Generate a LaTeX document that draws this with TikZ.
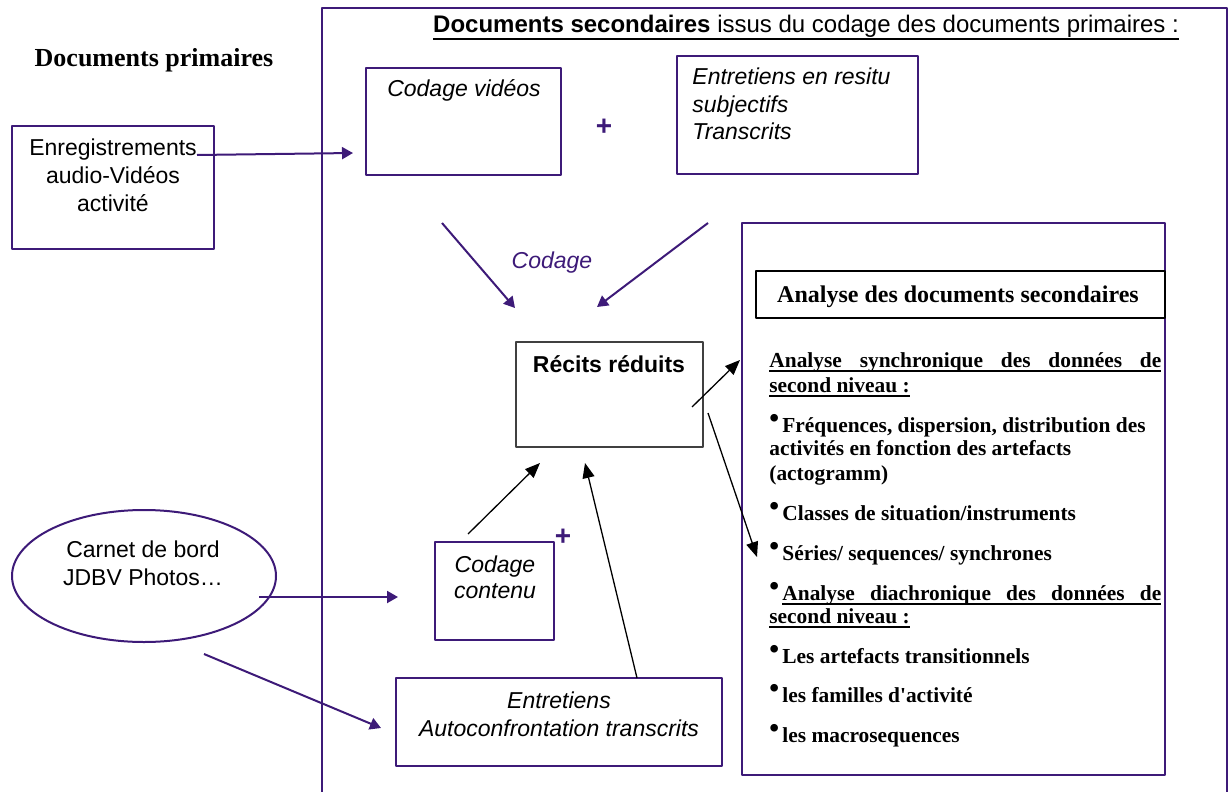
\documentclass[tikz,border=0pt]{standalone}
\usepackage{fontspec}
\setmainfont{Liberation Serif}
\setsansfont{Liberation Sans}
\usetikzlibrary{arrows.meta,fit,shapes.geometric}
\definecolor{violetfonce}{HTML}{3D1A78}
\definecolor{gristrait}{HTML}{404040}
% soulignement epais : [profondeur]{texte}
\newcommand\souligne[2][-2.5pt]{\setbox0=\hbox{#2}\rlap{\rule[#1]{\wd0}{1.1pt}}\box0}
\newcommand\puce{\makebox[6.5pt][l]{\raisebox{.22em}{\fontsize{14}{14}\selectfont\textbullet}}}
\tikzset{
	boite/.style={draw=violetfonce, line width=1pt, inner sep=0pt},
	fleche/.style={violetfonce, line width=1pt, -{Triangle[length=5.5pt,width=6pt]}},
	flechenoire/.style={black, line width=0.65pt, -{Triangle[length=7.5pt,width=6pt]}},
	texte/.style={font=\fontsize{11.5}{13.8}\selectfont\sffamily, inner sep=0pt},
	italique/.style={font=\fontsize{11.5}{13.8}\selectfont\sffamily\itshape, inner sep=0pt},
	entete/.style={font=\fontsize{12}{14}\selectfont\rmfamily\bfseries, inner sep=0pt},
	corps/.style={font=\fontsize{10.7}{12}\selectfont\rmfamily\bfseries, inner sep=0pt},
	plus/.style={font=\fontsize{14}{14}\selectfont\sffamily\bfseries, text=violetfonce, inner sep=0pt}
}
\begin{document}
\begin{tikzpicture}[x=0.5pt, y=-0.5pt, line join=round]
	\useasboundingbox (0,0) rectangle (1231,792);
	%Documents primaires.
	\node[font=\fontsize{13}{15}\selectfont\rmfamily\bfseries, anchor=base] (prim) at (154,67) {Documents primaires};
	\node[boite, fit={(12,126) (214,249)}] (enreg) {};
	\node[texte, anchor=base, align=center] (enreg-t) at (113,211) {Enregistrements\\audio-Vidéos\\activité};
	\node[boite, ellipse, minimum width=132pt, minimum height=66pt] (carnet) at (144,576) {};
	\node[texte, anchor=base, align=center] (carnet-t) at (143,585) {Carnet de bord\\JDBV Photos…};
	%Cadre des documents secondaires.
	\draw[violetfonce, line width=1pt] (322,800)--(322,8)--(1227,8)--(1227,800);
	\node[texte, font=\fontsize{12}{14}\selectfont\sffamily, anchor=base] (sec) at (806,33) {\souligne[-3.5pt]{\textbf{Documents secondaires} issus du codage des documents primaires :}};
	\node[boite, fit={(366,68) (561,175)}] (video) {};
	\node[italique, anchor=base] (video-t) at (464,97) {Codage vidéos};
	\node[plus] (plus1) at (604,127) {+};
	\node[boite, fit={(677,56) (918,174)}] (resitu) {};
	\node[italique, anchor=base west, align=left] (resitu-t) at (692,140) {Entretiens en resitu\\subjectifs\\Transcrits};
	\node[italique, text=violetfonce, anchor=base] (codage) at (552,268) {Codage};
	\node[draw=gristrait, line width=1.1pt, inner sep=0pt, fit={(516,342) (703,447)}] (recits) {};
	\node[texte, font=\fontsize{11.5}{13.8}\selectfont\sffamily\bfseries, anchor=base] (recits-t) at (609,372) {Récits réduits};
	\node[boite, fit={(435,542) (554,640)}] (contenu) {};
	\node[italique, anchor=base, align=center, font=\fontsize{11.5}{13}\selectfont\sffamily\itshape] (contenu-t) at (495,598) {Codage\\contenu};
	\node[plus] (plus2) at (563,537) {+};
	\node[boite, fit={(396,678) (722,766)}] (autoconf) {};
	\node[italique, anchor=base, align=center] (autoconf-t) at (559,736) {Entretiens\\Autoconfrontation transcrits};
	%Analyse des documents secondaires.
	\node[boite, fit={(742,223) (1165,775)}] (analyse) {};
	\node[draw, line width=0.75pt, inner sep=0pt, fit={(756,271) (1165,318)}] (analyse-cadre) {};
	\node[entete, anchor=base] (analyse-t) at (958,302) {Analyse des documents secondaires};
	\foreach \y/\t [count=\i] in {
		367/{\souligne{\makebox[196pt][s]{Analyse synchronique des données de}}},
		392/{\souligne{second niveau :}},
		432/{\puce Fréquences, dispersion, distribution des},
		455/{activités en fonction des artefacts},
		480/{(actogramm)},
		520/{\puce Classes de situation/instruments},
		560/{\puce Séries/ sequences/ synchrones},
		600/{\puce\souligne{\makebox[189.5pt][s]{Analyse diachronique des données de}}},
		623/{\souligne{second niveau :}},
		663/{\puce Les artefacts transitionnels},
		702/{\puce les familles d\textquotesingle activité},
		742/{\puce les macrosequences}}{
		\node[corps, anchor=base west] (ligne\i) at (769,\y) {\t};
	}
	%Extrémités des flèches.
	\coordinate (enreg-s) at (197,155); \coordinate (video-e) at (353,153);
	\coordinate (video-s) at (442,223); \coordinate (recits-g) at (515,308);
	\coordinate (resitu-s) at (708,223); \coordinate (recits-d) at (597,307);
	\coordinate (recits-a) at (692,407); \coordinate (analyse-a) at (740,360);
	\coordinate (recits-b) at (708,413); \coordinate (analyse-b) at (757,557);
	\coordinate (contenu-s) at (468,534); \coordinate (recits-c) at (540,463);
	\coordinate (autoconf-s) at (637,678); \coordinate (recits-e) at (585,463);
	\coordinate (carnet-a) at (259,597); \coordinate (contenu-e) at (398,597);
	\coordinate (carnet-b) at (204,654); \coordinate (autoconf-e) at (381,728);
	%Flèches.
	\draw[fleche] (enreg-s)--(video-e);
	\draw[fleche] (video-s)--(recits-g);
	\draw[fleche] (resitu-s)--(recits-d);
	\draw[fleche] (carnet-a)--(contenu-e);
	\draw[fleche] (carnet-b)--(autoconf-e);
	\draw[flechenoire] (recits-a)--(analyse-a);
	\draw[flechenoire] (recits-b)--(analyse-b);
	\draw[flechenoire] (contenu-s)--(recits-c);
	\draw[flechenoire] (autoconf-s)--(recits-e);
\end{tikzpicture}
\end{document}
